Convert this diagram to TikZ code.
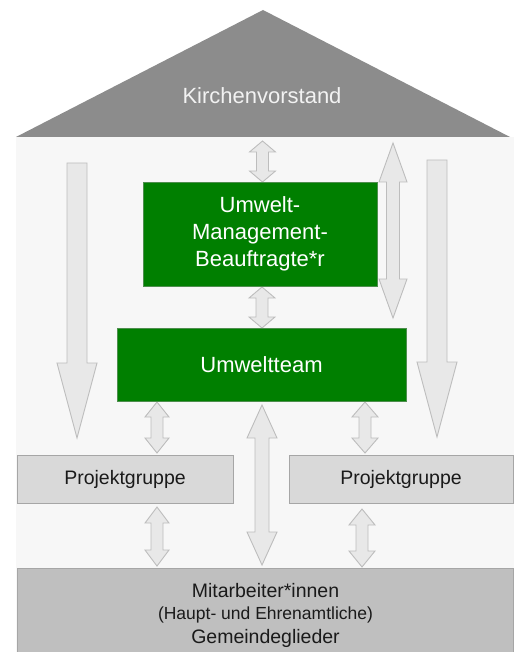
\documentclass[tikz,border=0pt]{standalone}
\usepackage{fontspec}
\setmainfont{Liberation Sans}
\definecolor{roofgray}{HTML}{8C8C8C}
\definecolor{bodybg}{HTML}{F7F7F7}
\definecolor{arrfill}{HTML}{E8E8E8}
\definecolor{arrdraw}{HTML}{BDBDBD}
\definecolor{boxgreen}{HTML}{007F00}
\definecolor{greenedge}{HTML}{4E8E4E}
\definecolor{pgfill}{HTML}{D9D9D9}
\definecolor{pgdraw}{HTML}{A6A6A6}
\definecolor{botfill}{HTML}{BFBFBF}
\definecolor{txtdark}{HTML}{1A1A1A}
\tikzset{
  barrow/.style={fill=arrfill, draw=arrdraw, line width=0.9pt, line join=miter},
  greenbox/.style={rectangle, fill=boxgreen, draw=greenedge, line width=0.8pt, text=white, align=center, inner sep=0pt, font=\fontsize{22}{27}\selectfont},
  pgbox/.style={rectangle, fill=pgfill, draw=pgdraw, line width=0.8pt, text=txtdark, inner sep=0pt, font=\fontsize{19.5}{23}\selectfont},
}
\newcommand\dblarr[6]{% x, ytop, ybot, shaft half, head half, head length
  \draw[barrow] (#1,#2) -- (#1+#5,#2+#6) -- (#1+#4,#2+#6) -- (#1+#4,#3-#6) -- (#1+#5,#3-#6) -- (#1,#3) -- (#1-#5,#3-#6) -- (#1-#4,#3-#6) -- (#1-#4,#2+#6) -- (#1-#5,#2+#6) -- cycle;}
\newcommand\downarr[6]{% x, ytop, head start, tip, shaft half, head half
  \draw[barrow] (#1-#5,#2) -- (#1+#5,#2) -- (#1+#5,#3) -- (#1+#6,#3) -- (#1,#4) -- (#1-#6,#3) -- (#1-#5,#3) -- cycle;}
\begin{document}
\begin{tikzpicture}[x=1pt,y=-1pt]
\useasboundingbox (0,0) rectangle (518,652);
\fill[white] (0,0) rectangle (518,652);
\begin{scope}
\clip (0,0) rectangle (518,652);
% body background
\fill[bodybg] (16,137) rectangle (514,652);
% roof
\fill[roofgray] (16,137) -- (263,10) -- (510,137) -- cycle;
\node[anchor=base, text=white!95!black, font=\fontsize{22}{26}\selectfont] (kv) at (262,104) {Kirchenvorstand};
% arrows
\downarr{77}{163}{363}{438}{10}{20}
\downarr{437}{160}{362}{437}{10}{20}
\dblarr{262.5}{141}{182}{6}{13}{11}
\dblarr{262}{287}{328}{6}{13}{11}
\dblarr{393}{143}{318}{6.5}{14}{39}
\dblarr{157}{402}{453}{6}{12}{15}
\dblarr{365}{402}{453}{6}{13}{15}
\dblarr{157}{507}{566}{6}{12}{16}
\dblarr{362}{509}{567}{6}{13}{16}
\dblarr{262}{405}{565}{7}{15}{33}
% boxes
\node[greenbox, minimum width=234pt, minimum height=104pt] (umb) at (260,234) {Umwelt-\\Management-\\Beauftragte*r};
\node[greenbox, minimum width=289pt, minimum height=73pt] (ut) at (261.5,364.5) {Umweltteam};
\node[pgbox, minimum width=216pt, minimum height=48pt] (pgl) at (125,479) {Projektgruppe};
\node[pgbox, minimum width=224pt, minimum height=48pt] (pgr) at (401,479) {Projektgruppe};
\node[rectangle, fill=botfill, draw=pgdraw, line width=0.8pt, minimum width=496pt, minimum height=100pt, anchor=north] (bot) at (265,568) {};
\node[anchor=base, text=txtdark, font=\fontsize{19.5}{23}\selectfont] (mit) at (265.5,597) {Mitarbeiter*innen};
\node[anchor=base, text=txtdark, font=\fontsize{17.5}{20}\selectfont] (hau) at (265.5,619) {(Haupt- und Ehrenamtliche)};
\node[anchor=base, text=txtdark, font=\fontsize{19.5}{23}\selectfont] (gem) at (265.5,643) {Gemeindeglieder};
\end{scope}
\end{tikzpicture}
\end{document}
